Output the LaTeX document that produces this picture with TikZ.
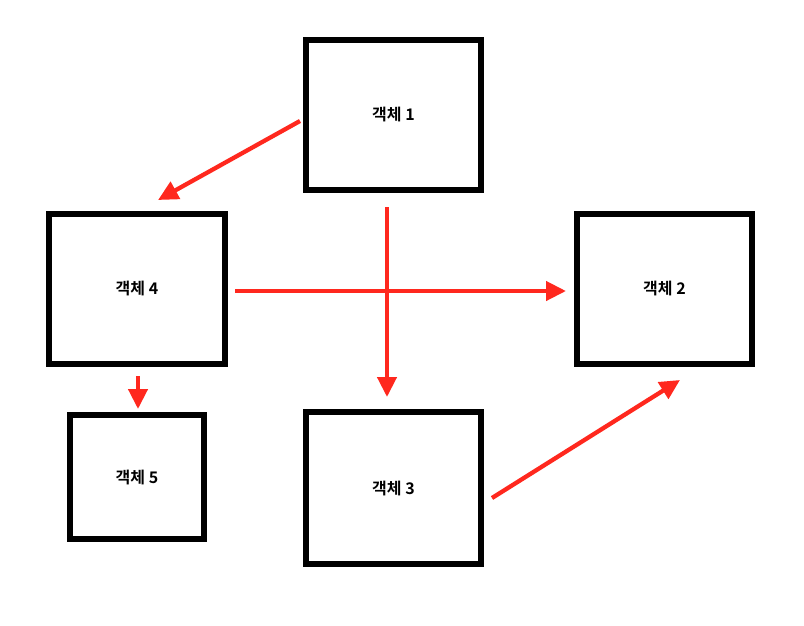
\documentclass[tikz,border=0pt]{standalone}
\usepackage{fontspec}
\newfontfamily\krfont{Noto Sans CJK KR}[BoldFont={Noto Sans CJK KR Bold}]
\usepackage{tikz}
\usetikzlibrary{arrows.meta,positioning}
\definecolor{arrowred}{RGB}{255,40,30}

\begin{document}
\begin{tikzpicture}[
        x=1pt, y=-1pt,
        obj_box/.style={
            rectangle,
            draw=black,
            line width=5.5pt,
            inner sep=0pt,
            font=\krfont\bfseries\fontsize{16}{19}\selectfont
        },
        red_arrow/.style={
            draw=arrowred,
            line width=4.3pt,
            -{Triangle[length=20pt,width=19pt]}
        }
    ]
        \useasboundingbox (0,0) rectangle (804,625);

        % Objects
        \node[obj_box, minimum width=175pt, minimum height=150pt] (o1) at (393.5,115) {객체 1};
        \node[obj_box, minimum width=176pt, minimum height=150pt] (o4) at (137,289) {객체 4};
        \node[obj_box, minimum width=175pt, minimum height=150pt] (o2) at (664.5,289) {객체 2};
        \node[obj_box, minimum width=134pt, minimum height=124pt] (o5) at (137,477) {객체 5};
        \node[obj_box, minimum width=175pt, minimum height=152pt] (o3) at (393.5,488) {객체 3};

        % Arrow ends
        \coordinate (a1s) at (300,121);
        \coordinate (a1e) at (158,200);
        \coordinate (a2s) at (387,207);
        \coordinate (a2e) at (387,397);
        \coordinate (a3s) at (235,291);
        \coordinate (a3e) at (566,291);
        \coordinate (a4s) at (138,376);
        \coordinate (a4e) at (138,409);
        \coordinate (a5s) at (492,498);
        \coordinate (a5e) at (680,380);

        % Arrows
        \draw[red_arrow] (a1s) -- (a1e);
        \draw[red_arrow] (a2s) -- (a2e);
        \draw[red_arrow] (a3s) -- (a3e);
        \draw[red_arrow] (a4s) -- (a4e);
        \draw[red_arrow] (a5s) -- (a5e);
\end{tikzpicture}
\end{document}
